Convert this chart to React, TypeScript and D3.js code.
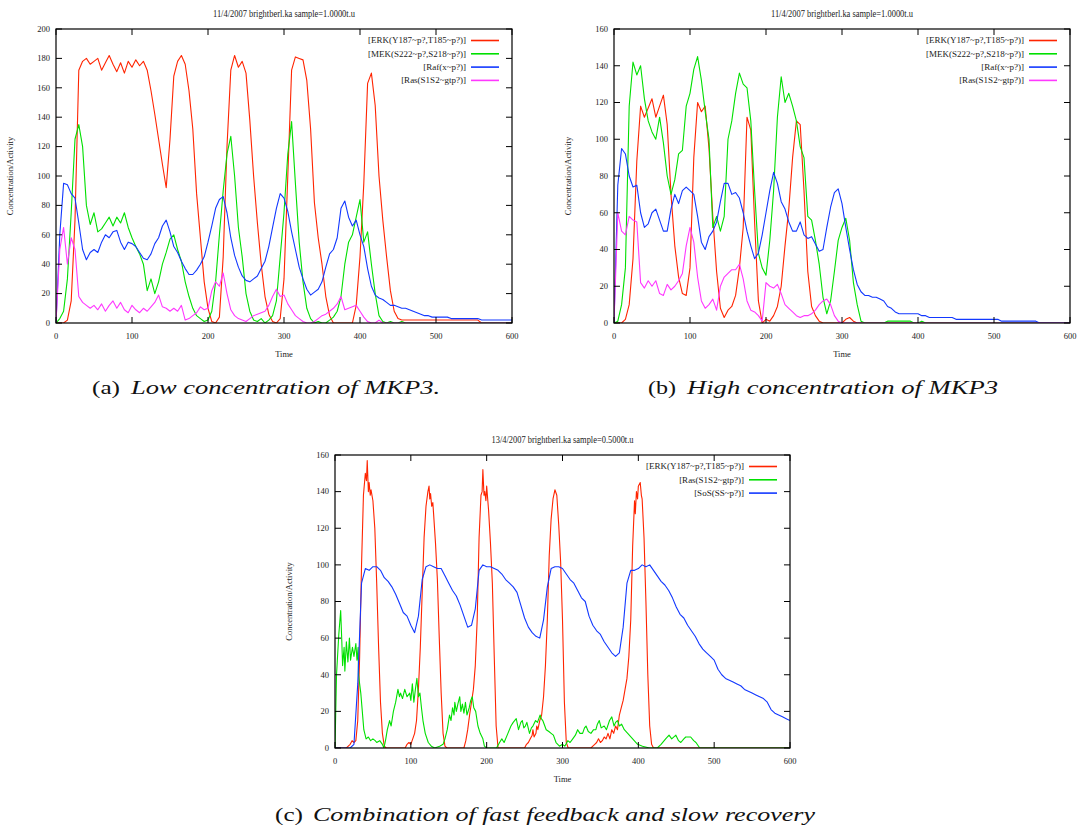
import React from "react";
import * as d3 from "d3";

// ---------- data ----------
const TIME5 = d3.range(0, 601, 5); // sample grid for step-5 series
const X_TICKS = [0, 100, 200, 300, 400, 500, 600];
const Y_TICKS_A = [0, 20, 40, 60, 80, 100, 120, 140, 160, 180, 200];
const Y_TICKS_B = [0, 20, 40, 60, 80, 100, 120, 140, 160];
const Y_TICKS_C = [0, 20, 40, 60, 80, 100, 120, 140, 160];

const TITLE_AB = "11/4/2007 brightberl.ka sample=1.0000t.u";
const TITLE_C = "13/4/2007 brightberl.ka sample=0.5000t.u";
const LABELS_AB = ["[ERK(Y187~p?,T185~p?)]", "[MEK(S222~p?,S218~p?)]", "[Raf(x~p?)]", "[Ras(S1S2~gtp?)]"];
const LABELS_C = ["[ERK(Y187~p?,T185~p?)]", "[Ras(S1S2~gtp?)]", "[SoS(SS~p?)]"];

// Panel (a) low MKP3, t = 0,5,...,600
const A_ERK = [
  0, 0, 0, 2, 15, 70, 172, 178, 180, 176,
  178, 180, 172, 177, 182, 176, 171, 177, 170, 178,
  174, 179, 175, 178, 172, 158, 142, 125, 108, 92,
  125, 168, 178, 182, 176, 158, 132, 88, 58, 28,
  10, 1, 0, 4, 45, 120, 172, 182, 174, 178,
  170, 138, 100, 68, 40, 18, 6, 1, 0, 3,
  30, 100, 172, 181, 180, 179, 165, 132, 82, 58,
  40, 18, 5, 0, 0, 0, 0, 0, 0, 12,
  45, 95, 163, 170, 148, 100, 70, 45, 22, 8,
  3, 2, 2, 2, 2, 2, 2, 2, 2, 2,
  2, 2, 2, 2, 2, 2, 2, 2, 2, 2,
  2, 2, 0, 0, 0, 0, 0, 0, 0, 0,
  0,
];
const A_MEK = [
  0, 3, 8, 30, 75, 125, 135, 120, 80, 67,
  75, 62, 64, 68, 72, 66, 72, 68, 75, 65,
  58, 52, 47, 40, 22, 30, 20, 28, 40, 48,
  57, 60, 50, 42, 28, 18, 10, 5, 3, 1,
  2, 8, 28, 60, 90, 115, 127, 100, 65, 45,
  20, 8, 2, 1, 3, 0, 2, 5, 15, 45,
  75, 115, 137, 95, 55, 28, 10, 3, 0, 1,
  0, 0, 2, 4, 8, 18, 40, 55, 60, 72,
  84, 55, 62, 40, 20, 5, 1, 0, 1, 0,
  0, 1, 0, 0, 0, 0, 0, 0, 0, 0,
  0, 0, 0, 0, 0, 0, 0, 0, 0, 0,
  0, 0, 0, 0, 0, 0, 0, 0, 0, 0,
  0,
];
const A_RAF = [
  0, 60, 95, 94, 88, 85, 68, 50, 43, 48,
  50, 48, 55, 60, 58, 62, 63, 55, 50, 55,
  54, 52, 48, 44, 43, 47, 54, 58, 66, 70,
  62, 52, 48, 42, 37, 33, 33, 36, 40, 45,
  55, 66, 78, 84, 86, 75, 58, 46, 38, 32,
  29, 28, 30, 32, 37, 42, 52, 65, 78, 88,
  85, 76, 62, 50, 38, 30, 23, 19, 21, 23,
  28, 38, 47, 50, 58, 78, 83, 72, 66, 70,
  60, 52, 37, 25, 19, 17, 16, 14, 12, 12,
  11, 10, 10, 9, 8, 7, 6, 5, 5, 4,
  4, 4, 4, 4, 3, 3, 3, 3, 3, 3,
  3, 3, 2, 2, 2, 2, 2, 2, 2, 2,
  2,
];
const A_RAS = [
  0, 50, 65, 40, 58, 50, 18, 14, 12, 10,
  12, 9, 13, 8, 12, 15, 10, 14, 9, 7,
  12, 9, 7, 10, 8, 11, 14, 19, 11, 10,
  8, 10, 8, 12, 2, 3, 5, 7, 11, 9,
  10, 22, 28, 25, 34, 20, 9, 5, 3, 2,
  1, 3, 5, 6, 7, 8, 12, 18, 23, 18,
  19, 13, 9, 5, 3, 1, 0, 0, 1, 3,
  5, 6, 8, 10, 13, 18, 9, 10, 11, 12,
  8, 4, 1, 0, 0, 2, 0, 0, 0, 0,
  0, 0, 0, 0, 0, 0, 0, 0, 0, 0,
  0, 0, 0, 0, 0, 0, 0, 0, 0, 0,
  0, 0, 0, 0, 0, 0, 0, 0, 0, 0,
  0,
];

// Panel (b) high MKP3, t = 0,5,...,600
const B_ERK = [
  0, 0, 0, 2, 10, 35, 88, 118, 112, 117,
  122, 112, 118, 124, 108, 70, 42, 25, 16, 15,
  30, 90, 120, 115, 118, 95, 58, 28, 8, 3,
  7, 9, 15, 30, 52, 112, 105, 55, 12, 0,
  2, 1, 4, 9, 20, 42, 62, 90, 110, 108,
  72, 28, 9, 4, 1, 0, 0, 0, 0, 0,
  0, 2, 3, 1, 0, 0, 0, 0, 0, 0,
  0, 0, 0, 0, 0, 0, 0, 0, 0, 0,
  0, 0, 0, 0, 0, 0, 0, 0, 0, 0,
  0, 0, 0, 0, 0, 0, 0, 0, 0, 0,
  0, 0, 0, 0, 0, 0, 0, 0, 0, 0,
  0, 0, 0, 0, 0, 0, 0, 0, 0, 0,
  0,
];
const B_MEK = [
  0, 1, 10, 30, 118, 142, 135, 140, 122, 110,
  104, 100, 112, 98, 80, 70, 78, 92, 94, 118,
  125, 138, 145, 132, 115, 100, 52, 58, 50, 58,
  100, 110, 125, 136, 130, 128, 110, 72, 38, 30,
  26, 45, 72, 112, 134, 120, 125, 118, 110, 96,
  90, 58, 56, 45, 32, 14, 5, 12, 28, 45,
  52, 57, 45, 22, 10, 1, 0, 0, 0, 0,
  0, 0, 1, 1, 1, 1, 1, 1, 1, 0,
  0, 1, 0, 0, 0, 0, 0, 0, 0, 0,
  0, 0, 0, 0, 0, 0, 0, 0, 0, 0,
  0, 0, 0, 0, 0, 0, 0, 0, 0, 0,
  0, 0, 0, 0, 0, 0, 0, 0, 0, 0,
  0,
];
const B_RAF = [
  0, 75, 95, 92, 80, 74, 75, 60, 52, 54,
  60, 62, 56, 50, 50, 62, 70, 65, 72, 74,
  72, 70, 58, 44, 40, 47, 50, 55, 66, 76,
  76, 70, 71, 68, 60, 50, 42, 35, 38, 48,
  60, 72, 82, 76, 66, 62, 55, 50, 50, 55,
  48, 46, 47, 43, 39, 40, 52, 63, 71, 73,
  65, 52, 40, 29, 21, 17, 15, 15, 14, 14,
  13, 12, 9, 8, 6, 5, 5, 5, 5, 5,
  5, 4, 4, 3, 3, 3, 3, 3, 3, 3,
  2, 2, 2, 2, 2, 2, 2, 2, 2, 2,
  2, 2, 1, 1, 1, 1, 1, 1, 1, 1,
  1, 1, 0, 0, 0, 0, 0, 0, 0, 0,
  0,
];
const B_RAS = [
  0, 60, 50, 48, 58, 56, 55, 22, 19, 23,
  20, 23, 16, 15, 21, 18, 20, 23, 27, 42,
  52, 44, 25, 12, 8, 10, 13, 7, 20, 25,
  27, 29, 29, 32, 24, 12, 7, 6, 4, 1,
  22, 20, 19, 21, 16, 10, 8, 6, 4, 3,
  4, 4, 5, 7, 10, 12, 13, 10, 4, 1,
  0, 0, 0, 0, 0, 0, 0, 0, 0, 0,
  0, 0, 0, 0, 0, 0, 0, 0, 0, 0,
  0, 0, 0, 0, 0, 0, 0, 0, 0, 0,
  0, 0, 0, 0, 0, 0, 0, 0, 0, 0,
  0, 0, 0, 0, 0, 0, 0, 0, 0, 0,
  0, 0, 0, 0, 0, 0, 0, 0, 0, 0,
  0,
];

// Panel (c) fast feedback + slow recovery, [time, value] samples
const C_ERK: [number, number][] = [
  [0, 0], [15, 0], [17.5, 1], [20, 2], [22.5, 4], [25, 3], [27.5, 4], [30, 15], [32.5, 50], [35, 100],
  [37.5, 138], [40, 150], [41.5, 146], [42.5, 157], [44, 140], [45, 145], [46.5, 138], [47.5, 141], [50, 135],
  [52.5, 120], [55, 90], [57.5, 55], [60, 25], [62.5, 8], [65, 1], [67.5, 0],
  [92.5, 0], [95, 2], [97.5, 3], [100, 2], [102.5, 5], [105, 8], [107.5, 15], [110, 32], [112.5, 55], [115, 85],
  [117.5, 115], [120, 132], [122.5, 140], [124, 143], [125, 136], [126, 139], [127.5, 132], [129, 134], [130, 128],
  [132.5, 112], [135, 92], [137.5, 60], [140, 30], [142.5, 8], [145, 1], [147.5, 0],
  [170, 0], [172.5, 4], [175, 10], [177.5, 18], [180, 25], [182.5, 32], [185, 45], [187.5, 70], [190, 115],
  [192.5, 138], [194, 140], [195, 152], [196.5, 138], [197.5, 140], [199, 135], [200, 143], [202.5, 130],
  [205, 112], [207.5, 90], [210, 50], [212.5, 12], [215, 0],
  [250, 0], [252.5, 2], [255, 3], [257.5, 5], [260, 7], [261, 10], [262.5, 6], [265, 8], [266, 12], [267.5, 10],
  [270, 15], [272.5, 18], [275, 28], [277.5, 45], [280, 70], [282.5, 105], [285, 125], [287.5, 136], [290, 141],
  [292.5, 138], [295, 122], [297.5, 102], [300, 70], [302.5, 25], [305, 3], [307.5, 0],
  [337.5, 0], [340, 1], [342.5, 2], [345, 3], [347.5, 5], [350, 3], [352.5, 4], [355, 6], [357.5, 5], [360, 8],
  [362.5, 5], [365, 10], [367.5, 8], [370, 12], [372.5, 10], [375, 18], [377.5, 22], [380, 26], [382.5, 32],
  [385, 38], [387.5, 50], [390, 70], [392.5, 110], [395, 135], [396, 128], [397.5, 140], [399, 136], [400, 143],
  [402.5, 145], [404, 138], [405, 136], [407.5, 115], [410, 80], [412.5, 40], [415, 12], [417.5, 2], [420, 0],
  [600, 0],
];
const C_RAS: [number, number][] = [
  [0, 0], [2, 40], [5, 62], [7.5, 75], [9, 58], [10, 45], [12, 55], [13, 42], [15, 58], [17, 47], [19, 60],
  [20.5, 48], [23, 55], [25, 50], [27.5, 57], [29, 48], [30.5, 55], [31, 40], [34, 30], [36, 20], [38, 10],
  [41, 5], [44, 6], [47, 4], [50, 5], [53, 4], [55, 3], [59, 4], [62.5, 2], [64.5, 0], [67, 5], [69, 10],
  [72, 15], [74, 12], [77, 20], [80, 25], [83, 32], [85, 28], [86.5, 30], [89, 27], [92, 32], [95, 28],
  [98.5, 30], [100, 26], [102, 35], [104, 25], [106, 32], [108, 38], [110, 28], [112, 30], [114, 22],
  [116, 15], [119, 8], [123, 3], [127, 1], [131.5, 0], [138, 1], [142.5, 2], [145, 5], [148, 10], [151, 18],
  [153, 15], [155, 22], [157, 18], [158, 25], [160, 20], [162, 24], [164.5, 28], [166, 20], [168, 24],
  [170, 19], [172, 25], [174, 18], [177, 22], [179, 26], [181, 28], [183, 22], [185.5, 20], [188.5, 12],
  [191.5, 8], [195, 5], [197, 1], [200, 0], [213, 0], [217, 3], [220, 5], [223, 3], [228, 8], [232, 12],
  [235, 14], [239, 16], [242, 10], [245, 14], [247, 15], [249, 11], [251, 12], [253, 14], [256.5, 8],
  [259, 11], [261, 12], [264.5, 15], [267, 14], [270.5, 18], [272, 16], [274, 15], [278.5, 10], [282, 9],
  [285, 8], [288, 7], [291.5, 3], [296, 1], [300, 2], [303, 1], [307, 4], [310, 3], [313.5, 5], [317, 7],
  [320, 10], [323, 8], [326.5, 8], [329, 11], [331, 12], [334, 9], [337.5, 8], [341, 10], [344, 10],
  [346, 13], [348.5, 15], [351, 11], [355, 12], [358, 10], [362, 15], [365, 17], [368, 12], [370, 14],
  [372.5, 15], [375, 12], [378, 13], [381.5, 10], [386, 8], [392.5, 5], [399, 2], [405.5, 1], [414.5, 0],
  [425, 0], [430, 2], [436, 5], [440.5, 7], [444, 5], [449.5, 7], [453, 4], [456, 3], [460, 5], [462.5, 6],
  [469, 6], [473, 4], [476, 3], [481, 0], [600, 0],
];
const C_SOS = [
  0, 0, 0, 0, 0, 2, 35, 90, 98, 97,
  99, 99, 97, 93, 91, 88, 84, 79, 74, 72,
  67, 63, 72, 92, 99, 100, 99, 98, 98, 94,
  90, 86, 83, 78, 72, 66, 67, 76, 97, 100,
  99, 99, 98, 97, 95, 92, 90, 88, 85, 78,
  71, 66, 63, 61, 60, 70, 88, 98, 99, 99,
  98, 95, 92, 90, 86, 82, 80, 72, 67, 64,
  62, 58, 55, 52, 50, 52, 66, 90, 97, 97,
  98, 100, 99, 100, 97, 94, 91, 89, 86, 82,
  77, 73, 71, 67, 64, 61, 57, 54, 52, 50,
  48, 43, 40, 38, 37, 36, 35, 34, 32, 31,
  30, 29, 28, 27, 25, 21, 19, 18, 17, 16,
  15,
];

// ---------- drawing ----------
const RED = "#ff2400";
const GREEN = "#00e000";
const BLUE = "#1238ff";
const MAGENTA = "#ff38ff";
const FONT = "'Liberation Serif', 'DejaVu Serif', serif";

type Pt = [number, number];
const onGrid = (vals: number[]): Pt[] => vals.map((v, i) => [TIME5[i], v]);

interface Box { l: number; r: number; t: number; b: number; }
interface Series { pts: Pt[]; color: string; label: string; }

function Panel({ id, box, yMax, yTicks, title, series }: { id: string; box: Box; yMax: number; yTicks: number[]; title: string; series: Series[] }) {
  const x = d3.scaleLinear().domain([0, 600]).range([box.l, box.r]);
  const y = d3.scaleLinear().domain([0, yMax]).range([box.b, box.t]);
  const line = d3.line<Pt>().x((d) => x(d[0])).y((d) => y(d[1]));
  const tl = 6;
  const cx = (box.l + box.r) / 2;
  const cy = (box.t + box.b) / 2;
  return (
    <g fontFamily={FONT}>
      <defs>
        <clipPath id={id}>
          <rect x={box.l} y={box.t - 1} width={box.r - box.l} height={box.b - box.t + 1} />
        </clipPath>
      </defs>
      <text x={cx} y={box.t - 12} fontSize={9.5} textAnchor="middle" fill="#222" textLength={142} lengthAdjust="spacingAndGlyphs">{title}</text>
      <g clipPath={`url(#${id})`}>
        {series.map((s, i) => (
          <path key={i} d={line(s.pts) || ""} fill="none" stroke={s.color} strokeWidth={1.1} strokeLinejoin="round" />
        ))}
      </g>
      {X_TICKS.map((t) => (
        <g key={"x" + t}>
          <line x1={x(t)} x2={x(t)} y1={box.b} y2={box.b - tl} stroke="#000" />
          <line x1={x(t)} x2={x(t)} y1={box.t} y2={box.t + tl} stroke="#000" />
          <text x={x(t)} y={box.b + 16} fontSize={8.5} textAnchor="middle" fill="#222">{t}</text>
        </g>
      ))}
      {yTicks.map((v) => (
        <g key={"y" + v}>
          <line x1={box.l} x2={box.l + tl} y1={y(v)} y2={y(v)} stroke="#000" />
          <line x1={box.r} x2={box.r - tl} y1={y(v)} y2={y(v)} stroke="#000" />
          <text x={box.l - 6} y={y(v)} dy="0.33em" fontSize={8.5} textAnchor="end" fill="#222">{v}</text>
        </g>
      ))}
      <rect x={box.l} y={box.t} width={box.r - box.l} height={box.b - box.t} fill="none" stroke="#000" strokeWidth={1.2} />
      {series.map((s, i) => {
        const ly = box.t + 11.5 + i * 13.3;
        return (
          <g key={"lg" + i}>
            <text x={box.r - 46} y={ly} dy="0.33em" fontSize={9} textAnchor="end" fill="#222">{s.label}</text>
            <line x1={box.r - 41} x2={box.r - 13} y1={ly} y2={ly} stroke={s.color} strokeWidth={1.6} />
          </g>
        );
      })}
      <text x={cx} y={box.b + 34} fontSize={8.5} textAnchor="middle" fill="#222">Time</text>
      <text transform={`translate(${box.l - 43},${cy}) rotate(-90)`} fontSize={8.5} textAnchor="middle" fill="#222">Concentration/Activity</text>
    </g>
  );
}

function Caption({ tag, text, xTag, xText, width, y }: { tag: string; text: string; xTag: number; xText: number; width: number; y: number }) {
  return (
    <g fontFamily={FONT} fontSize={19} fill="#111">
      <text x={xTag} y={y} textLength={28} lengthAdjust="spacingAndGlyphs">{tag}</text>
      <text x={xText} y={y} fontStyle="italic" textLength={width} lengthAdjust="spacingAndGlyphs">{text}</text>
    </g>
  );
}

export default function App() {
  const boxA: Box = { l: 56, r: 512, t: 29, b: 323 };
  const boxB: Box = { l: 614, r: 1070, t: 29, b: 323 };
  const boxC: Box = { l: 335, r: 790, t: 455, b: 748 };
  const seriesA: Series[] = [
    { pts: onGrid(A_ERK), color: RED, label: LABELS_AB[0] },
    { pts: onGrid(A_MEK), color: GREEN, label: LABELS_AB[1] },
    { pts: onGrid(A_RAF), color: BLUE, label: LABELS_AB[2] },
    { pts: onGrid(A_RAS), color: MAGENTA, label: LABELS_AB[3] },
  ];
  const seriesB: Series[] = [
    { pts: onGrid(B_ERK), color: RED, label: LABELS_AB[0] },
    { pts: onGrid(B_MEK), color: GREEN, label: LABELS_AB[1] },
    { pts: onGrid(B_RAF), color: BLUE, label: LABELS_AB[2] },
    { pts: onGrid(B_RAS), color: MAGENTA, label: LABELS_AB[3] },
  ];
  const seriesC: Series[] = [
    { pts: C_ERK, color: RED, label: LABELS_C[0] },
    { pts: C_RAS, color: GREEN, label: LABELS_C[1] },
    { pts: onGrid(C_SOS), color: BLUE, label: LABELS_C[2] },
  ];
  return (
    <svg width={1078} height={829} style={{ position: "absolute", left: 0, top: 0, background: "#fff" }}>
      <rect x={0} y={0} width={1078} height={829} fill="#fff" />
      <Panel id="clipA" box={boxA} yMax={200} yTicks={Y_TICKS_A} title={TITLE_AB} series={seriesA} />
      <Panel id="clipB" box={boxB} yMax={160} yTicks={Y_TICKS_B} title={TITLE_AB} series={seriesB} />
      <Panel id="clipC" box={boxC} yMax={160} yTicks={Y_TICKS_C} title={TITLE_C} series={seriesC} />
      <Caption tag="(a)" text="Low concentration of MKP3." xTag={92} xText={131} width={309} y={394} />
      <Caption tag="(b)" text="High concentration of MKP3" xTag={648} xText={687} width={311} y={394} />
      <Caption tag="(c)" text="Combination of fast feedback and slow recovery" xTag={275} xText={313} width={502} y={821} />
    </svg>
  );
}
